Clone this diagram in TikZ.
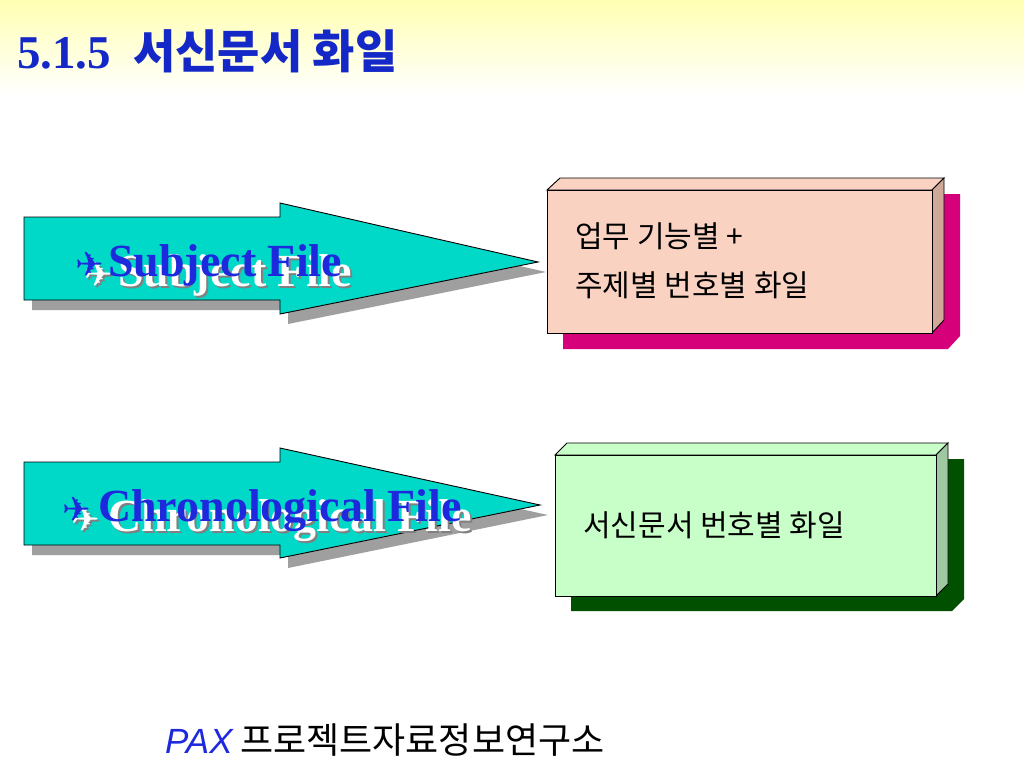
\documentclass[tikz,border=0pt]{standalone}
\usepackage{fontspec}
\setmainfont{Liberation Serif}
\newfontfamily\kr{Noto Sans CJK KR}
\newfontfamily\symf{DejaVu Sans}
\newfontfamily\arialf{Liberation Sans}
\definecolor{titleblue}{RGB}{20,40,200}
\definecolor{textblue}{RGB}{30,40,220}
\definecolor{turq}{RGB}{0,216,200}
\definecolor{peach}{RGB}{250,210,194}
\definecolor{peachside}{RGB}{208,168,152}
\definecolor{magent}{RGB}{214,0,122}
\definecolor{lgreen}{RGB}{200,255,200}
\definecolor{lgreenside}{RGB}{160,200,160}
\definecolor{dgreen}{RGB}{0,80,0}
\tikzset{
  arrowbody/.style={fill=turq, draw=black, line width=0.9pt, line join=miter},
  arrowshadow/.style={fill=gray!75},
  boxfront/.style={draw=black, line width=0.9pt, line join=miter},
  lbl/.style={inner sep=0pt, anchor=base west},
  bigword/.style={lbl, font=\fontsize{46}{46}\selectfont\bfseries},
  plane/.style={lbl, font=\fontsize{34}{34}\symf},
  boxtxt/.style={lbl, font=\fontsize{30}{30}\kr},
}
\begin{document}
\begin{tikzpicture}[x=1pt,y=-1pt]
\useasboundingbox (0,0) rectangle (1024,768);
\fill[white] (0,0) rectangle (1024,768);
\shade[top color=yellow!30, bottom color=white] (0,0) rectangle (1024,95);

% title
\node[lbl, text=titleblue, font=\fontsize{47}{47}\selectfont\bfseries] (title) at (17,68) {5.1.5\hspace{22pt}{\kr\fontsize{46}{46}\selectfont 서신문서 화일}};

% arrow 1
\fill[arrowshadow, shift={(8,10)}] (24,217) -- (280,217) -- (280,203) -- (538,262) -- (280,314) -- (280,300) -- (24,300) -- cycle;
\path[arrowbody] (24,217) -- (280,217) -- (280,203) -- (538,262) -- (280,314) -- (280,300) -- (24,300) -- cycle;
\node[plane, text=gray] (p1g) at (86,288) {✈};
\node[plane, text=white] (p1w) at (84,286) {✈};
\node[plane, text=textblue] (p1) at (75,276) {✈};
\node[bigword, text=gray] (s1g) at (120,288) {Subject File};
\node[bigword, text=white] (s1w) at (118,286) {Subject File};
\node[bigword, text=textblue] (s1) at (108,276) {Subject File};

% arrow 2
\fill[arrowshadow, shift={(8,10)}] (24,462) -- (280,462) -- (280,448) -- (540,505) -- (280,558) -- (280,545) -- (24,545) -- cycle;
\path[arrowbody] (24,462) -- (280,462) -- (280,448) -- (540,505) -- (280,558) -- (280,545) -- (24,545) -- cycle;
\node[plane, text=gray] (p2g) at (73,533) {✈};
\node[plane, text=white] (p2w) at (71,531) {✈};
\node[plane, text=textblue] (p2) at (62,521) {✈};
\node[bigword, text=gray] (s2g) at (110,533) {Chronological File};
\node[bigword, text=white] (s2w) at (108,531) {Chronological File};
\node[bigword, text=textblue] (s2) at (98,521) {Chronological File};

% box 1
\fill[magent] (563,206) -- (576,194) -- (960,194) -- (960,336) -- (948,349) -- (563,349) -- cycle;
\path[boxfront, fill=peach] (547,190) -- (560,178) -- (944,178) -- (932,190) -- cycle;
\path[boxfront, fill=peachside] (932,190) -- (944,178) -- (944,320) -- (932,333) -- cycle;
\path[boxfront, fill=peach] (547,190) rectangle (932,333);
\node[boxtxt] (b1a) at (575,247) {업무 기능별 +};
\node[boxtxt] (b1b) at (575,296) {주제별 번호별 화일};

% box 2
\fill[dgreen] (571,471) -- (584,459) -- (964,459) -- (964,599) -- (952,611) -- (571,611) -- cycle;
\path[boxfront, fill=lgreen] (555,455) -- (567,443) -- (948,443) -- (936,455) -- cycle;
\path[boxfront, fill=lgreenside] (936,455) -- (948,443) -- (948,584) -- (936,596) -- cycle;
\path[boxfront, fill=lgreen] (555,455) rectangle (936,596);
\node[boxtxt] (b2a) at (583,536) {서신문서 번호별 화일};

% footer
\node[lbl, text=textblue, font=\fontsize{35}{35}\arialf\itshape] (pax) at (165,753) {PAX};
\node[lbl, font=\fontsize{36}{36}\kr] (org) at (240,753) {프로젝트자료정보연구소};
\end{tikzpicture}
\end{document}
